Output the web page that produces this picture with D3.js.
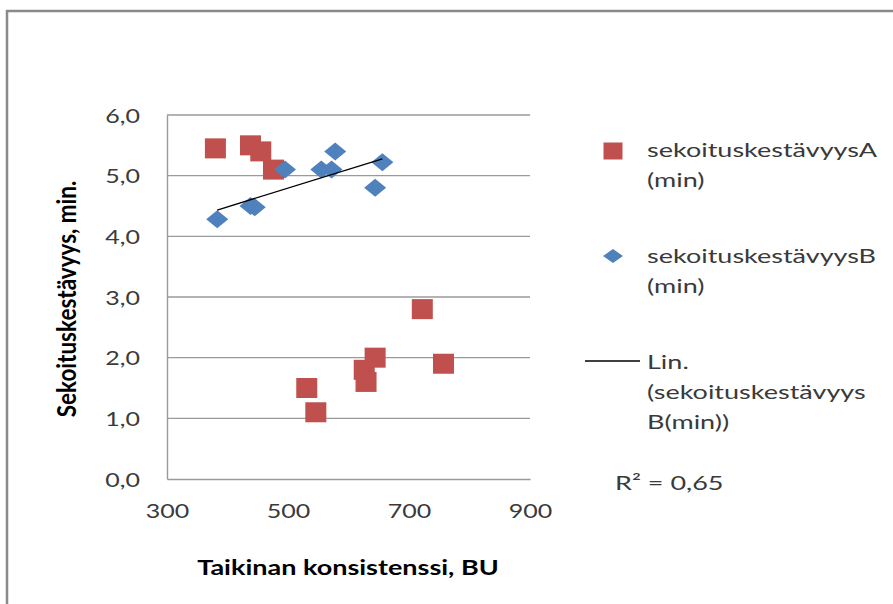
<!DOCTYPE html>
<html>
<head>
<meta charset="utf-8">
<script src="https://cdn.jsdelivr.net/npm/d3@7"></script>
<style>
  body { margin: 0; background: #fff; }
  text { font-family: Lato, "Open Sans", sans-serif; }
</style>
</head>
<body>
<svg id="chart" width="893" height="604"></svg>
<script>
// Dough consistency (BU) vs. mixing stability (min), two series
const consistencyA = [380, 438, 455, 476, 531, 546, 626, 629, 644, 722, 757];
const stabilityA   = [5.45, 5.5, 5.4, 5.1, 1.5, 1.1, 1.8, 1.6, 2.0, 2.8, 1.9];
const consistencyB = [383, 438, 445, 495, 555, 572, 578, 644, 656];
const stabilityB   = [4.28, 4.5, 4.48, 5.1, 5.1, 5.1, 5.4, 4.8, 5.22];

const xTicks = [300, 500, 700, 900];
const yTicks = [0, 1, 2, 3, 4, 5, 6];

const legendA = ["sekoituskestävyysA", "(min)"];
const legendB = ["sekoituskestävyysB", "(min)"];
const legendTrend = ["Lin.", "(sekoituskestävyys", "B(min))"];
const rSquaredLabel = "R² = 0,65";
const xTitle = "Taikinan konsistenssi, BU";
const yTitle = "Sekoituskestävyys, min.";

const colorA = "#C0504D";
const colorB = "#4F81BD";
const gridColor = "#9a9a9a";
const textColor = "#3a3a3a";
const FONT = 20;
const STRETCH = 1.35;   // the chart's typeface runs wide

const svg = d3.select("#chart");

// outer chart frame
svg.append("rect")
  .attr("x", 7).attr("y", 11)
  .attr("width", 950).attr("height", 700)
  .attr("fill", "#fff")
  .attr("stroke", "#8a8a8a").attr("stroke-width", 2.5);

const x = d3.scaleLinear().domain([300, 900]).range([167, 530]);
const y = d3.scaleLinear().domain([0, 6]).range([479, 115]);

const fi = d3.formatLocale({ decimal: ",", thousands: " ", grouping: [3], currency: ["", ""] });
const fmt1 = fi.format(".1f");

// place a text widened horizontally around its anchor point
function wideText(parent, px, py, str, anchor) {
  return parent.append("text")
    .attr("transform", `translate(${px},${py}) scale(${STRETCH},1)`)
    .attr("text-anchor", anchor || "start")
    .attr("font-size", FONT)
    .attr("fill", textColor)
    .text(str);
}

// horizontal gridlines
svg.append("g")
  .selectAll("line")
  .data(yTicks.filter(d => d > 0))
  .join("line")
  .attr("x1", x(300)).attr("x2", x(900))
  .attr("y1", d => y(d)).attr("y2", d => y(d))
  .attr("stroke", gridColor).attr("stroke-width", 1.4);

// y axis
const yAxis = svg.append("g")
  .attr("transform", `translate(${x(300)},0)`)
  .call(d3.axisLeft(y).tickValues(yTicks).tickSize(0).tickPadding(27).tickFormat(fmt1));
yAxis.select(".domain").attr("stroke", gridColor).attr("stroke-width", 1.4);
yAxis.selectAll(".tick text").each(function () {
  const t = d3.select(this);
  const tx = +t.attr("x");
  t.attr("x", 0).attr("dy", "0.35em")
    .attr("transform", `translate(${tx},0) scale(1.25,1)`)
    .attr("font-size", FONT).attr("font-family", null).attr("fill", textColor);
});

// x axis
const xAxis = svg.append("g")
  .attr("transform", `translate(0,${y(0)})`)
  .call(d3.axisBottom(x).tickValues(xTicks).tickSize(0).tickFormat(d3.format("d")));
xAxis.select(".domain").attr("stroke", gridColor).attr("stroke-width", 1.4);
xAxis.selectAll(".tick text").each(function () {
  d3.select(this)
    .attr("y", 0).attr("dy", 0)
    .attr("transform", `translate(0,39) scale(1.25,1)`)
    .attr("font-size", FONT).attr("font-family", null).attr("fill", textColor);
});

// axis titles
svg.append("text")
  .attr("transform", `translate(348,575) scale(${STRETCH},1)`)
  .attr("text-anchor", "middle")
  .attr("font-size", FONT).attr("font-weight", "bold").attr("fill", "#000")
  .text(xTitle);
svg.append("text")
  .attr("transform", `translate(76,299) rotate(-90) scale(1,1.15)`)
  .attr("text-anchor", "middle")
  .attr("font-size", 22.5).attr("font-weight", "bold").attr("fill", "#000")
  .text(yTitle);

// series A: squares
const sqW = 21, sqH = 20;
svg.append("g")
  .selectAll("rect")
  .data(d3.zip(consistencyA, stabilityA))
  .join("rect")
  .attr("x", d => x(d[0]) - sqW / 2)
  .attr("y", d => y(d[1]) - sqH / 2)
  .attr("width", sqW).attr("height", sqH)
  .attr("fill", colorA);

// series B: diamonds
const dW = 22, dH = 18;
const diamond = (cx, cy, w, h) =>
  `M${cx},${cy - h / 2}L${cx + w / 2},${cy}L${cx},${cy + h / 2}L${cx - w / 2},${cy}Z`;
svg.append("g")
  .selectAll("path")
  .data(d3.zip(consistencyB, stabilityB))
  .join("path")
  .attr("d", d => diamond(x(d[0]), y(d[1]), dW, dH))
  .attr("fill", colorB);

// linear trend for series B (least squares)
const mx = d3.mean(consistencyB), my = d3.mean(stabilityB);
const sxy = d3.sum(consistencyB, (v, i) => (v - mx) * (stabilityB[i] - my));
const sxx = d3.sum(consistencyB, v => (v - mx) * (v - mx));
const slope = sxy / sxx, intercept = my - slope * mx;
const [x0, x1] = d3.extent(consistencyB);
svg.append("line")
  .attr("x1", x(x0)).attr("y1", y(intercept + slope * x0))
  .attr("x2", x(x1)).attr("y2", y(intercept + slope * x1))
  .attr("stroke", "#000").attr("stroke-width", 1.3);

// legend
const lg = svg.append("g");
lg.append("rect").attr("x", 613 - 9.5).attr("y", 151 - 8.5).attr("width", 19).attr("height", 17).attr("fill", colorA);
legendA.forEach((s, i) => wideText(lg, 647, 157 + i * 30, s));
lg.append("path").attr("d", diamond(613, 256, 20, 14)).attr("fill", colorB);
legendB.forEach((s, i) => wideText(lg, 647, 263 + i * 30, s));
lg.append("line").attr("x1", 585).attr("x2", 640).attr("y1", 361).attr("y2", 361)
  .attr("stroke", "#000").attr("stroke-width", 1.3);
legendTrend.forEach((s, i) => wideText(lg, 647, 369 + i * 30, s));
wideText(lg, 615, 490, rSquaredLabel);
</script>
</body>
</html>
